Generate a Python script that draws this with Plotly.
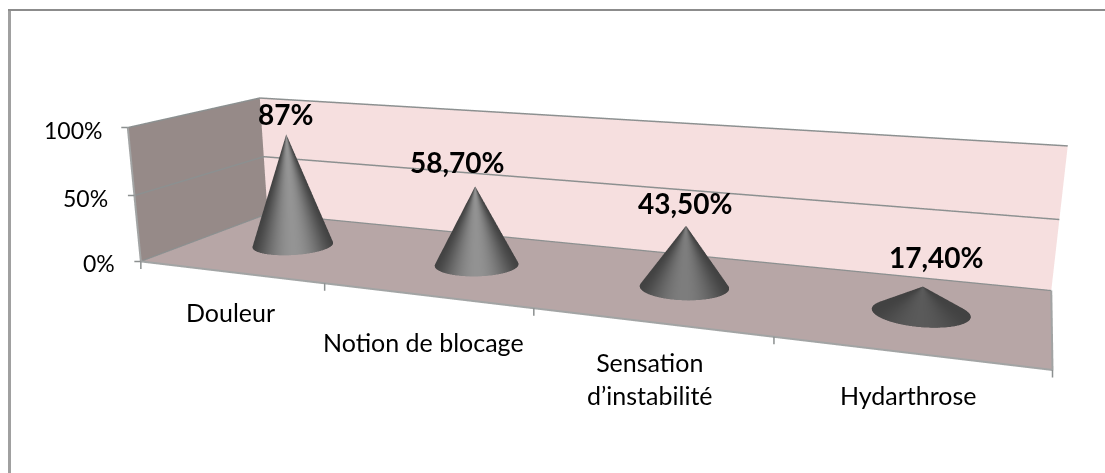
import numpy as np
import plotly.graph_objects as go

categories = ["Douleur", "Notion de blocage", "Sensation<br>d’instabilité", "Hydarthrose"]
values = [87, 58.7, 43.5, 17.4]
value_labels = ["87%", "58,70%", "43,50%", "17,40%"]
z_ticks = [0, 50, 100]
z_tick_labels = ["0%", "50%", "100%"]
x_ticks = [0, 1, 2, 3, 4]
x_range = [0, 4]
y_range = [0, 1]
z_range = [0, 100]

# label nudges in pixels
value_xshift = [-1, -18, -1, 13]
value_yshift = [1, 5, 4, 11]
cat_xshift = [1, -2, 0, 1]
cat_yshift = [-23, -30, -23, -25]

# camera and page placement
eye = dict(x=0.9108, y=-2.4650, z=0.6107)
center = dict(x=-0.0204, y=-0.0429, z=-0.1168)
up = dict(x=0.0031, y=0, z=1)
hy, hz = 0.2585, 0.1587
W2, H2, LEFT, TOP = 1124, 1003, 0, -240
S = 0.5


def px(x):
    return (x - LEFT) / W2


def py(y):
    return 1 - (y - TOP) / H2


fig = go.Figure()
TH = np.linspace(0, 2 * np.pi, 181)
V = np.linspace(0, 1, 15)
rx, ry = 0.195, 0.19
ax_w = rx / 2
ay_w = ry * 2 * hy
for i, v in enumerate(values):
    T, Vv = np.meshgrid(TH, V)
    xs = i + 0.5 + rx * (1 - Vv) * np.cos(T)
    ys = 0.5 + ry * (1 - Vv) * np.sin(T)
    zs = v * Vv
    T0 = np.arctan2(eye["y"] / ay_w, (eye["x"] - (i + 0.5 - 2) / 2) / ax_w)
    c = np.maximum(np.cos(T - T0), 0)
    col = 0.26 + 0.32 * min(1, v / 60) * c ** 3
    fig.add_trace(go.Surface(x=xs, y=ys, z=zs, surfacecolor=col, cmin=0, cmax=1,
                             colorscale=[[0, "#000000"], [1, "#ffffff"]], showscale=False, hoverinfo="skip",
                             lighting=dict(ambient=1, diffuse=0, specular=0, roughness=1, fresnel=0)))

edge = dict(mode="lines", line=dict(color="#a2a4a4", width=4), hoverinfo="skip", showlegend=False)
x0, x1 = x_range
y0, y1 = y_range
z0, z1 = z_range
fig.add_trace(go.Scatter3d(x=[x0, x1, x1], y=[y0, y0, y1], z=[z0, z0, z0], **edge))
fig.add_trace(go.Scatter3d(x=[x0, x0], y=[y0, y0], z=[z0, z1], **edge))

ann = []
for i, (v, l) in enumerate(zip(values, value_labels)):
    ann.append(dict(x=i + 0.5, y=0.5, z=v, text=f"<b>{l}</b>", showarrow=False, yanchor="bottom",
                    xshift=value_xshift[i], yshift=value_yshift[i],
                    font=dict(family="Lato", size=28, color="#000")))
for i, c in enumerate(categories):
    ann.append(dict(x=i + 0.5, y=0, z=0, text=c, showarrow=False, yanchor="top",
                    xshift=cat_xshift[i], yshift=cat_yshift[i],
                    font=dict(family="Lato", size=25, color="#000")))
for t, l in zip(z_ticks, z_tick_labels):
    ann.append(dict(x=0, y=0, z=t, text=l, showarrow=False, xanchor="right", xshift=-24, yshift=-2,
                    font=dict(family="Lato", size=23, color="#000")))
tick = dict(text="", showarrow=True, arrowhead=0, arrowwidth=1.5, arrowcolor="#8c9090", standoff=0)
for t in x_ticks:
    ann.append(dict(tick, x=t, y=0, z=0, ax=0, ay=9))
for t in z_ticks:
    ann.append(dict(tick, x=0, y=0, z=t, ax=-8, ay=0))

ax = dict(showticklabels=False, title="", zeroline=False, showspikes=False, showline=False, ticks="")
fig.update_layout(
    width=W2, height=H2, margin=dict(l=0, r=0, t=0, b=0), paper_bgcolor="white", showlegend=False,
    shapes=[
        dict(type="line", xref="paper", yref="paper", x0=px(9.5), x1=px(9.5), y0=py(473), y1=py(10),
             line=dict(color="#a0a0a0", width=3)),
        dict(type="line", xref="paper", yref="paper", x0=px(8), x1=px(1105), y0=py(10), y1=py(10),
             line=dict(color="#8c8c8c", width=2)),
    ],
    scene=dict(
        domain=dict(x=[0, 1], y=[0, 1]), aspectmode="manual",
        aspectratio=dict(x=1 / S, y=hy / S, z=hz / S),
        camera=dict(eye=eye, center=center, up=up, projection=dict(type="perspective")),
        xaxis=dict(ax, range=x_range, tickvals=x_ticks, showgrid=False, showbackground=True, backgroundcolor="#968a88"),
        yaxis=dict(ax, range=y_range, tickvals=[], showgrid=False, showbackground=True, backgroundcolor="#f6dfdf"),
        zaxis=dict(ax, range=z_range, tickvals=z_ticks, showgrid=True, gridcolor="#8c9090", gridwidth=3, showbackground=True, backgroundcolor="#b7a6a6"),
        annotations=ann))
fig.write_html("out.html", config=dict(displayModeBar=False),
               post_script=f"document.documentElement.style.overflow='hidden';document.body.style.overflow='hidden';document.body.style.margin='0';var g=document.querySelector('.plotly-graph-div');g.style.position='absolute';g.style.left='{LEFT}px';g.style.top='{TOP}px';")
